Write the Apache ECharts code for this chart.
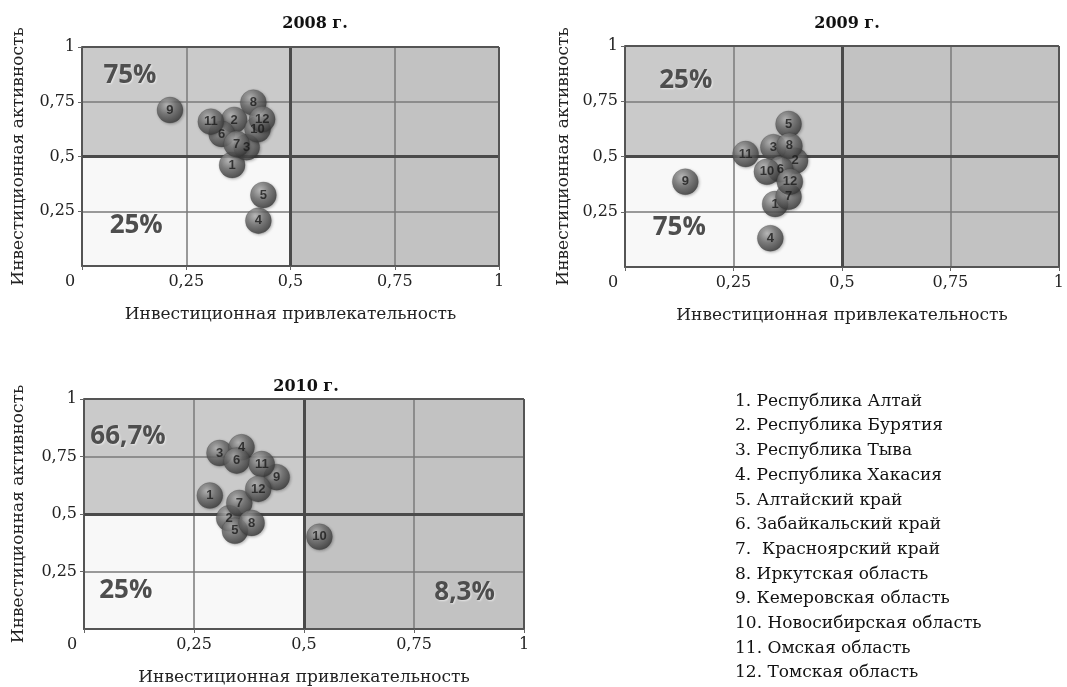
<!DOCTYPE html>
<html><head><meta charset="utf-8">
<script src="https://cdn.jsdelivr.net/npm/echarts@6/dist/echarts.min.js"></script>
<style>html,body{margin:0;padding:0;background:#fff}#c{width:1067px;height:687px}</style>
</head><body><div id="c"></div>
<script>
const regions = ["Республика Алтай","Республика Бурятия","Республика Тыва","Республика Хакасия","Алтайский край","Забайкальский край","Красноярский край","Иркутская область","Кемеровская область","Новосибирская область","Омская область","Томская область"];
const legendLabels = ["1. Республика Алтай","2. Республика Бурятия","3. Республика Тыва","4. Республика Хакасия","5. Алтайский край","6. Забайкальский край","7.  Красноярский край","8. Иркутская область","9. Кемеровская область","10. Новосибирская область","11. Омская область","12. Томская область"];
const years = ["2008 г.","2009 г.","2010 г."];
// [attractiveness x, activity y] for regions 1..12
const pts2008 = [[0.360,0.461],[0.365,0.667],[0.395,0.542],[0.423,0.207],[0.435,0.324],[0.335,0.603],[0.371,0.557],[0.411,0.746],[0.211,0.712],[0.421,0.624],[0.309,0.659],[0.432,0.670]];
const pts2009 = [[0.346,0.285],[0.392,0.481],[0.342,0.542],[0.335,0.130],[0.377,0.647],[0.358,0.442],[0.377,0.318],[0.379,0.548],[0.139,0.386],[0.327,0.431],[0.278,0.511],[0.380,0.386]];
const pts2010 = [[0.286,0.580],[0.330,0.481],[0.308,0.765],[0.358,0.790],[0.343,0.427],[0.347,0.732],[0.353,0.548],[0.381,0.461],[0.438,0.660],[0.535,0.401],[0.404,0.717],[0.396,0.609]];
// quadrant share labels: [topLeft, bottomLeft, bottomRight]
const shares2008 = ["75%","25%",""];
const shares2009 = ["25%","75%",""];
const shares2010 = ["66,7%","25%","8,3%"];

const panels = [
  {pts:pts2008, shares:shares2008, rect:{left:82,top:47,width:417,height:219}, yGap:55, pos:[['23%','26%'],['26%','63%'],['73%','68%']]},
  {pts:pts2009, shares:shares2009, rect:{left:625,top:46,width:438,height:221}, yGap:53, pos:[['28%','31%'],['25%','64%'],['73%','68%']]},
  {pts:pts2010, shares:shares2010, rect:{left:84,top:399,width:440,height:231}, yGap:57, pos:[['20%','33%'],['19%','67%'],['73%','68%']]}
];
const serif = "'DejaVu Serif','Liberation Serif',serif";
const fmt = v => String(v).replace('.', ',');

const grid=[], xAxis=[], yAxis=[], series=[], title=[];
const titleX=[310,842,301], titleY=[11,11,374];
panels.forEach((p,i)=>{
  grid.push(Object.assign({containLabel:false}, p.rect));
  title.push({text:years[i], left:titleX[i], top:titleY[i], textAlign:'center',
    textStyle:{fontFamily:serif,fontSize:16,fontWeight:'bold',color:'#111'}});
  xAxis.push({gridIndex:i, type:'value', min:0, max:1, interval:0.25, z:2,
    name:'Инвестиционная привлекательность', nameLocation:'middle', nameGap:40,
    nameTextStyle:{fontFamily:serif,fontSize:17,color:'#222'},
    axisLine:{show:true,lineStyle:{color:'#555',width:2}},
    axisTick:{show:true,length:4,lineStyle:{color:'#666'}},
    axisLabel:{margin:8,fontFamily:serif,fontSize:16,color:'#222',
      formatter:v=> v===0 ? '{z|0}' : fmt(v),
      rich:{z:{fontFamily:serif,fontSize:16,color:'#222',padding:[0,24,0,0]}}},
    splitLine:{show:true,lineStyle:{color:'#7a7a7a',width:1.5}}});
  yAxis.push({gridIndex:i, type:'value', min:0, max:1, interval:0.25, z:2,
    name:'Инвестиционная активность', nameLocation:'middle', nameGap:p.yGap,
    nameTextStyle:{fontFamily:serif,fontSize:17,color:'#222'},
    axisLine:{show:true,lineStyle:{color:'#555',width:2}},
    axisTick:{show:true,length:4,lineStyle:{color:'#666'}},
    axisLabel:{margin:7,fontFamily:serif,fontSize:16,color:'#222',showMinLabel:false,formatter:fmt},
    splitLine:{show:true,lineStyle:{color:'#7a7a7a',width:1.5}}});
  const lab = (t,pos)=>({show:!!t, position:pos, align:'center', verticalAlign:'middle',
    formatter:t, fontFamily:"'Open Sans','Liberation Sans',sans-serif", fontWeight:'bold', fontSize:26,
    color:'#4e4e4e', textShadowColor:'rgba(255,255,255,0.6)', textShadowBlur:2, textShadowOffsetX:1, textShadowOffsetY:1});
  series.push({type:'scatter', xAxisIndex:i, yAxisIndex:i, data:[], z:1, silent:true,
    markArea:{silent:true, data:[
      [{xAxis:0,yAxis:0.5,itemStyle:{color:'#cacaca'},label:lab(p.shares[0],p.pos[0])},{xAxis:0.5,yAxis:1}],
      [{xAxis:0,yAxis:0,itemStyle:{color:'#f8f8f8'},label:lab(p.shares[1],p.pos[1])},{xAxis:0.5,yAxis:0.5}],
      [{xAxis:0.5,yAxis:0.5,itemStyle:{color:'#c2c2c2'},label:{show:false}},{xAxis:1,yAxis:1}],
      [{xAxis:0.5,yAxis:0,itemStyle:{color:'#c2c2c2'},label:lab(p.shares[2],p.pos[2])},{xAxis:1,yAxis:0.5}]
    ]}});
  series.push({type:'scatter', xAxisIndex:i, yAxisIndex:i, data:[], z:3, silent:true,
    markLine:{silent:true, symbol:'none', label:{show:false},
      lineStyle:{color:'#4a4a4a',width:3,type:'solid'},
      data:[{xAxis:0.5},{yAxis:0.5},{xAxis:1,lineStyle:{width:2,color:'#555'}},{yAxis:1,lineStyle:{width:2,color:'#555'}}]}});
  series.push({type:'scatter', name:years[i], xAxisIndex:i, yAxisIndex:i, z:5, symbolSize:26,
    data:p.pts.map((d,k)=>({value:[d[0],d[1]], name:regions[k]})),
    itemStyle:{color:new echarts.graphic.RadialGradient(0.38,0.32,0.75,[
      {offset:0,color:'#b8b8b8'},{offset:0.45,color:'#6e6e6e'},{offset:1,color:'#2e2e2e'}]),
      borderColor:'rgba(60,60,60,0.6)',borderWidth:0.5,
      shadowColor:'rgba(0,0,0,0.35)',shadowBlur:3,shadowOffsetX:1,shadowOffsetY:1},
    label:{show:true, position:'inside', formatter:q=>String(q.dataIndex+1),
      fontFamily:"'Liberation Sans',sans-serif", fontSize:13, fontWeight:'bold', color:'#1a1a1a'}});
});

const chart = echarts.init(document.getElementById('c'), null, {renderer:'canvas'});
chart.setOption({
  animation:false, backgroundColor:'#fff',
  title, grid, xAxis, yAxis, series,
  graphic:[{type:'text', left:735, top:389,
    style:{text:legendLabels.join('\n'), fontFamily:serif, fontSize:17, lineHeight:24.7, fill:'#111'}}]
});
</script></body></html>
